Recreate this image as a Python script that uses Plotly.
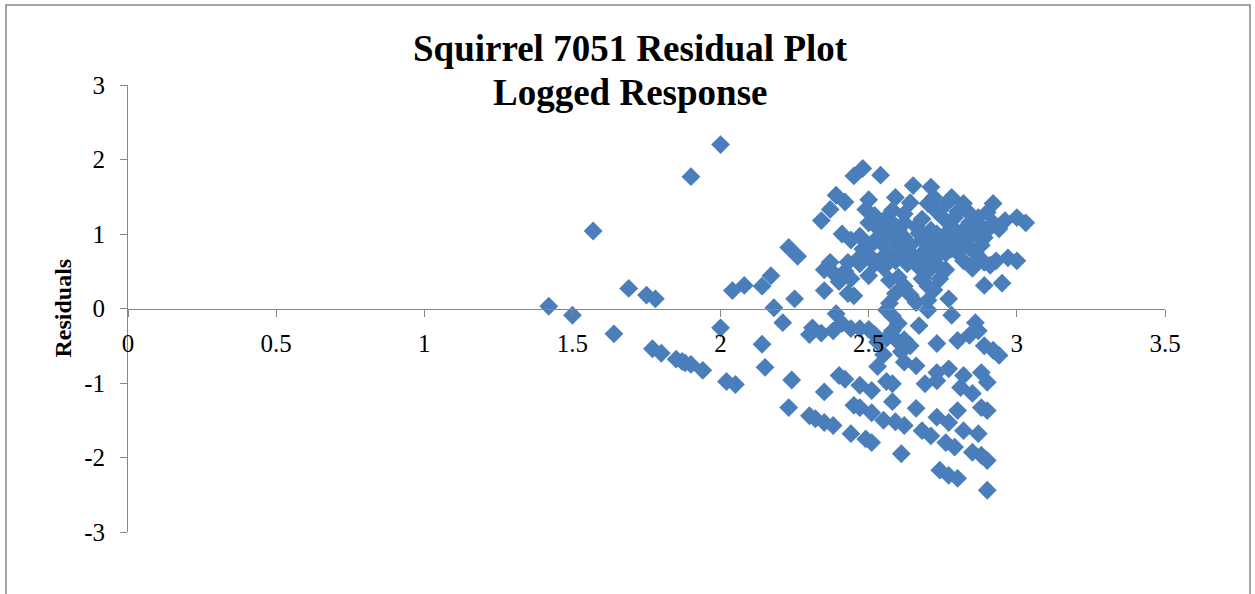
import plotly.graph_objects as go

# ---- data (fitted value, residual) ----
fitted = [
    1.42, 1.50, 1.57, 1.64, 1.69, 1.75, 1.78, 1.77, 1.80, 1.85, 1.87, 1.88, 1.90, 1.94, 1.90, 2.00, 2.00, 2.02, 2.05, 2.04, 2.08,
    2.14, 2.17, 2.18, 2.21, 2.14, 2.15, 2.23, 2.26, 2.25, 2.24, 2.23, 2.30, 2.32, 2.35, 2.38, 2.35, 2.40, 2.42, 2.45, 2.47,
    2.51, 2.47, 2.51, 2.44, 2.49, 2.51, 2.31, 2.30, 2.34, 2.39, 2.41, 2.38, 2.44, 2.47, 2.50, 2.53, 2.52, 2.55, 2.53, 2.56,
    2.58, 2.55, 2.59, 2.56, 2.58, 2.60, 2.62, 2.61, 2.64, 2.62, 2.66, 2.60, 2.58, 2.67, 2.70, 2.73, 2.80, 2.78, 2.86, 2.87,
    2.84, 2.89, 2.92, 2.94, 2.73, 2.77, 2.82, 2.88, 2.58, 2.69, 2.73, 2.81, 2.85, 2.90, 2.66, 2.80, 2.88, 2.90, 2.62, 2.68,
    2.71, 2.73, 2.77, 2.82, 2.87, 2.61, 2.76, 2.79, 2.85, 2.88, 2.90, 2.74, 2.77, 2.80, 2.90,
    2.34, 2.37, 2.39, 2.42, 2.45, 2.48, 2.54, 2.50, 2.49, 2.52, 2.55, 2.41, 2.44, 2.47, 2.43, 2.37, 2.35, 2.38, 2.40, 2.42,
    2.44, 2.46, 2.43, 2.45, 2.35, 2.50, 2.50, 2.53, 2.56, 2.58, 2.50, 2.53, 2.56, 2.52, 2.55, 2.48, 2.50, 2.47, 2.52, 2.55,
    2.59, 2.65, 2.71, 2.72, 2.70, 2.78, 2.82, 2.92, 2.90, 2.87, 2.96, 3.00, 3.03, 2.94, 2.79, 2.75, 2.62, 2.58, 2.67, 2.71,
    2.85, 2.89, 2.84, 2.78, 2.62, 2.58, 2.87, 2.93, 2.97, 3.00, 2.82, 2.76, 2.69, 2.66, 2.59, 2.60, 2.64, 2.66, 2.68, 2.70,
    2.72, 2.74, 2.76, 2.78, 2.80, 2.82, 2.84, 2.86, 2.88, 2.90, 2.92, 2.64, 2.62, 2.68, 2.73, 2.76, 2.80, 2.84, 2.60, 2.64,
    2.67, 2.70, 2.72, 2.74, 2.76, 2.78, 2.86, 2.88, 2.89, 2.91, 2.85, 2.89, 2.95, 2.77, 2.70, 2.72, 2.66, 2.62, 2.60, 2.57,
    2.59, 2.57, 2.56, 2.64, 2.70, 2.74, 2.68, 2.73, 2.71, 2.69, 2.73, 2.75, 2.80, 2.82, 2.63, 2.61, 2.57, 2.55,
]
residual = [
    0.03, -0.09, 1.04, -0.34, 0.27, 0.18, 0.13, -0.54, -0.60, -0.68, -0.71, -0.73, -0.75, -0.83, 1.77, 2.20, -0.26, -0.98, -1.02, 0.24, 0.31,
    0.30, 0.44, 0.01, -0.19, -0.48, -0.79, 0.82, 0.70, 0.13, -0.96, -1.33, -1.44, -1.48, -1.53, -1.57, -1.12, -0.90, -0.95, -1.30, -1.33,
    -1.40, -1.03, -1.10, -1.68, -1.75, -1.80, -0.26, -0.35, -0.33, -0.07, -0.20, -0.30, -0.27, -0.27, -0.28, -0.45, -0.35, -0.62, -0.78, -0.98,
    -1.25, -1.50, -1.52, -0.40, -0.30, -0.45, -0.42, -0.58, -0.50, -0.72, -0.77, -0.20, -0.10, -0.23, -0.02, -0.47, -0.43, -0.09, -0.19, -0.30,
    -0.36, -0.50, -0.56, -0.63, -0.86, -0.81, -0.90, -0.86, -1.01, -1.01, -0.97, -1.06, -1.14, -0.99, -1.34, -1.37, -1.33, -1.37, -1.57, -1.64,
    -1.71, -1.46, -1.53, -1.64, -1.68, -1.95, -1.80, -1.86, -1.93, -1.97, -2.04, -2.17, -2.24, -2.28, -2.44,
    1.18, 1.33, 1.52, 1.43, 1.78, 1.88, 1.79, 1.46, 1.33, 1.25, 1.13, 1.00, 0.92, 0.97, 0.62, 0.62, 0.52, 0.48, 0.36, 0.50,
    0.40, 0.65, 0.20, 0.17, 0.24, 0.44, 0.85, 0.95, 1.05, 1.15, 1.15, 1.08, 1.22, 0.90, 0.85, 0.80, 0.72, 0.60, 0.60, 0.55,
    1.49, 1.65, 1.63, 1.49, 1.41, 1.49, 1.41, 1.41, 1.29, 1.22, 1.18, 1.22, 1.15, 1.07, 1.22, 1.22, 1.27, 1.32, 1.01, 1.05,
    1.01, 0.95, 0.82, 0.91, 0.95, 0.98, 0.67, 0.64, 0.68, 0.64, 0.64, 0.74, 0.78, 0.64, 0.64, 0.85, 0.85, 1.10, 0.92, 0.95,
    0.80, 0.90, 1.00, 1.10, 0.98, 1.05, 1.15, 1.00, 1.10, 1.05, 1.15, 1.42, 1.15, 1.20, 1.30, 1.40, 1.30, 1.28, 1.05, 0.75,
    0.55, 0.50, 0.62, 0.55, 0.52, 0.80, 0.75, 0.85, 0.62, 0.58, 0.54, 0.31, 0.34, 0.13, 0.11, 0.25, 0.08, 0.30, 0.42, 0.38,
    0.20, 0.07, -0.02, 0.18, 0.30, 0.40, 0.40, 1.00, 0.90, 0.70, 0.70, 0.82, 0.75, 0.88, 0.60, 0.72, 0.72, 0.70,
]

x_tickvals = [0, 0.5, 1, 1.5, 2, 2.5, 3, 3.5]
x_ticktext = ["0", "0.5", "1", "1.5", "2", "2.5", "3", "3.5"]
y_tickvals = [3, 2, 1, 0, -1, -2, -3]
y_ticktext = ["3", "2", "1", "0", "-1", "-2", "-3"]

title_lines = ["Squirrel 7051 Residual Plot", "Logged Response"]
y_title = "Residuals"

SERIF = "Liberation Serif, Times New Roman, serif"
AXIS_GRAY = "#868686"
BLUE = "#4A7EBB"

W, H = 1255, 594
L, R, T, B = 128, 90, 85, 62
pw, ph = W - L - R, H - T - B

fig = go.Figure()
fig.add_trace(go.Scatter(
    x=fitted, y=residual, mode="markers",
    marker=dict(symbol="diamond", size=14.5, color=BLUE, line=dict(width=0)),
    hoverinfo="x+y", showlegend=False,
))

fig.update_layout(
    width=W, height=H,
    margin=dict(l=L, r=R, t=T, b=B, pad=0),
    paper_bgcolor="white", plot_bgcolor="white",
    font=dict(family=SERIF, color="black", size=25),
    xaxis=dict(
        range=[0, 3.5], tickvals=x_tickvals, ticktext=x_ticktext,
        showgrid=False, zeroline=False,
        showline=True, linecolor=AXIS_GRAY, linewidth=1,
        ticks="outside", ticklen=7, tickcolor=AXIS_GRAY, tickwidth=1,
        anchor="free", position=0.5,
        tickfont=dict(family=SERIF, size=25, color="black"),
        ticklabelstandoff=5,
    ),
    yaxis=dict(
        range=[-3, 3], tickvals=y_tickvals, ticktext=y_ticktext,
        showgrid=False, zeroline=False,
        showline=True, linecolor=AXIS_GRAY, linewidth=1,
        ticks="outside", ticklen=7, tickcolor=AXIS_GRAY, tickwidth=1,
        tickfont=dict(family=SERIF, size=25, color="black"),
        ticklabelstandoff=10,
    ),
    annotations=[
        dict(
            text="<b>" + title_lines[0] + "</b>",
            xref="paper", yref="paper",
            x=(630 - L) / pw, y=(H - B - 48) / ph,
            xanchor="center", yanchor="middle", showarrow=False,
            font=dict(family=SERIF, size=37, color="black"),
        ),
        dict(
            text="<b>" + title_lines[1] + "</b>",
            xref="paper", yref="paper",
            x=(630 - L) / pw, y=(H - B - 92) / ph,
            xanchor="center", yanchor="middle", showarrow=False,
            font=dict(family=SERIF, size=37, color="black"),
        ),
        dict(
            text="<b>" + y_title + "</b>", textangle=-90,
            xref="paper", yref="paper",
            x=(62 - L) / pw, y=0.5, xanchor="center", yanchor="middle",
            showarrow=False, font=dict(family=SERIF, size=24, color="black"),
        ),
    ],
    shapes=[dict(
        type="rect", xref="paper", yref="paper",
        x0=(6 - L) / pw, x1=(1250 - L) / pw,
        y0=-(H + 20 - (H - B)) / ph, y1=(H - B - 5) / ph,
        line=dict(color=AXIS_GRAY, width=1.5), fillcolor="rgba(0,0,0,0)",
        layer="below",
    )],
)

fig.write_html("out.html")
